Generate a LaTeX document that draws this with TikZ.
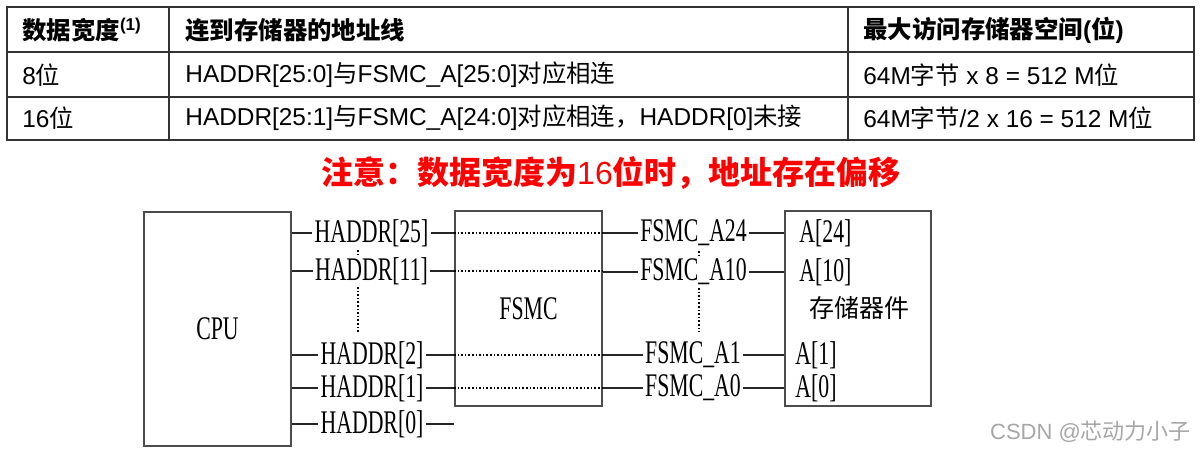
\documentclass[tikz,border=0pt]{standalone}
\usepackage{fontspec}
\setmainfont{Liberation Sans}
\newfontfamily\cjk{Noto Sans CJK SC}
\newfontfamily\songti{Liberation Serif}[FakeStretch=0.66]
\newcommand{\zh}[1]{{\cjk #1}}
\usetikzlibrary{positioning}

\begin{document}
\begin{tikzpicture}[x=0.5pt, y=-0.5pt,
    cell/.style={anchor=west, inner sep=0pt, font=\fontsize{12.2}{14}\selectfont},
    chip/.style={
        draw=black!70,
        line width=1pt,
        minimum width=73.5pt,
        minimum height=97.5pt,
        font=\songti\fontsize{16.5}{18}\selectfont
    },
    pin/.style={inner sep=1pt, font=\songti\fontsize{16.5}{18}\selectfont},
    wire/.style={line width=0.8pt, black!85},
    dotwire/.style={densely dotted, line width=0.8pt}
]
    \useasboundingbox (0,0) rectangle (1203,452);

    % 表格
    \draw[line width=1pt, black!80] (7,7) rectangle (1194,140);
    \draw[line width=1pt, black!80] (7,52) -- (1194,52) (7,97) -- (1194,97)
        (169,7) -- (169,140) (848,7) -- (848,140);
    \node[cell] (hwidth) at (22,30) {\zh{\bfseries 数据宽度}\textsuperscript{\bfseries(1)}};
    \node[cell] (hline) at (185,30) {\zh{\bfseries 连到存储器的地址线}};
    \node[cell] (hspace) at (863,30) {\zh{\bfseries 最大访问存储器空间}\textbf{(}\zh{\bfseries 位}\textbf{)}};
    \node[cell] (w8) at (22,75) {8\zh{位}};
    \node[cell] (l8) at (185,75) {HADDR[25:0]\zh{与}FSMC\_A[25:0]\zh{对应相连}};
    \node[cell] (s8) at (863,75) {64M\zh{字节} x 8 = 512 M\zh{位}};
    \node[cell] (w16) at (22,118) {16\zh{位}};
    \node[cell] (l16) at (185,118) {HADDR[25:1]\zh{与}FSMC\_A[24:0]\zh{对应相连，}HADDR[0]\zh{未接}};
    \node[cell] (s16) at (863,118) {64M\zh{字节}/2 x 16 = 512 M\zh{位}};

    % 标题
    \node[text=red, font=\cjk\bfseries\fontsize{16}{19}\selectfont] (note) at (611,173)
        {注意：数据宽度为{\normalfont 16}位时，地址存在偏移};

    % 三个方框
    \node[chip] (cpu) at (217.5,329) [minimum height=117pt] {CPU};
    \node[chip] (fsmc) at (528.5,308.5) {FSMC};
    \node[chip] (mem) at (858,308.5) [minimum width=73pt] {};
    \node[font=\cjk\fontsize{12.5}{15}\selectfont] (memname) at (859,308) {存储器件};

    % 地址线标签
    \node[pin] (h25) at (371.5,233) {HADDR[25]};
    \node[pin] (h11) at (371.5,271) {HADDR[11]};
    \node[pin] (h2) at (372,355) {HADDR[2]};
    \node[pin] (h1) at (372,388) {HADDR[1]};
    \node[pin] (h0) at (372,424) {HADDR[0]};
    \node[pin] (f24) at (693.5,233) {FSMC\_A24};
    \node[pin] (f10) at (693.5,272) {FSMC\_A10};
    \node[pin] (f1) at (693,355) {FSMC\_A1};
    \node[pin] (f0) at (693,388) {FSMC\_A0};
    \node[pin, anchor=west, inner sep=0pt] (a24) at (799,233) {A[24]};
    \node[pin, anchor=west, inner sep=0pt] (a10) at (799,272) {A[10]};
    \node[pin, anchor=west, inner sep=0pt] (a1) at (795,355) {A[1]};
    \node[pin, anchor=west, inner sep=0pt] (a0) at (795,388) {A[0]};

    % 连线
    \foreach \h/\f in {h25/f24, h11/f10, h2/f1, h1/f0} {
        \draw[wire] (cpu.east |- \h.west) -- (\h.west);
        \draw[wire] (\h.east) -- (fsmc.west |- \h.east);
        \draw[dotwire] (fsmc.west |- \h.east) -- (fsmc.east |- \h.east);
        \draw[wire] (fsmc.east |- \f.west) -- (\f.west);
        \draw[wire] (\f.east) -- (mem.west |- \f.east);
    }
    \draw[wire] (cpu.east |- h0.west) -- (h0.west);
    \draw[wire] (h0.east) -- (fsmc.west |- h0.east);

    % 省略的地址线
    \draw[dotwire] (358,250) -- (358,256);
    \draw[dotwire] (358,287) -- (358,332);
    \draw[dotwire] (699,251) -- (699,257);
    \draw[dotwire] (699,288) -- (699,332);

    % 水印
    \node[anchor=east, text=black!35, font=\fontsize{11}{13}\selectfont] (mark) at (1198,432)
        {CSDN @\zh{芯动力小子}};
\end{tikzpicture}
\end{document}
